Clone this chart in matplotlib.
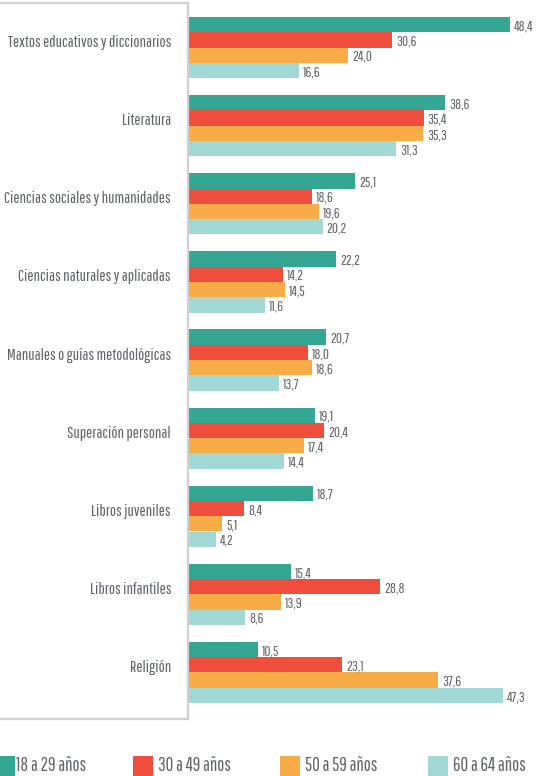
import matplotlib
matplotlib.use("Agg")
import matplotlib.pyplot as plt
from matplotlib.lines import Line2D
from matplotlib.patches import Rectangle

categories = ["Textos educativos y diccionarios", "Literatura", "Ciencias sociales y humanidades",
              "Ciencias naturales y aplicadas", "Manuales o guías metodológicas", "Superación personal",
              "Libros juveniles", "Libros infantiles", "Religión"]
series_names = ["18 a 29 años", "30 a 49 años", "50 a 59 años", "60 a 64 años"]
s18_29 = [48.4, 38.6, 25.1, 22.2, 20.7, 19.1, 18.7, 15.4, 10.5]
s30_49 = [30.6, 35.4, 18.6, 14.2, 18.0, 20.4, 8.4, 28.8, 23.1]
s50_59 = [24.0, 35.3, 19.6, 14.5, 18.6, 17.4, 5.1, 13.9, 37.6]
s60_64 = [16.6, 31.3, 20.2, 11.6, 13.7, 14.4, 4.2, 8.6, 47.3]
series = [s18_29, s30_49, s50_59, s60_64]
colors = ["#36A694", "#EF4E3C", "#F8AC48", "#A2D9D6"]

FONT = ["Pathway Gothic One", "Barlow Condensed", "DejaVu Sans"]
plt.rcParams['font.family'] = FONT
TXT = "#5f6368"

W, H = 550, 776
fig = plt.figure(figsize=(W/100, H/100), dpi=100)
ax_left, ax_top, ax_bot = 188, 3, 719
ax_right = 548
ax = fig.add_axes([ax_left/W, 1-ax_bot/H, (ax_right-ax_left)/W, (ax_bot-ax_top)/H])
ax.set_ylim(ax_bot, ax_top)
ax.set_xlim(0, (ax_right-ax_left)/6.66)

group_step = 78.1
bar_h = 15.3
first = 17
for j, vals in enumerate(series):
    ys = [first + i*group_step + (j+0.5)*bar_h for i in range(len(categories))]
    ax.barh(ys, vals, height=bar_h, color=colors[j], linewidth=0)
    for y, v in zip(ys, vals):
        ax.text(v + 0.6, y + 1.5, f"{v:.1f}".replace(".", ","), va="center", ha="left",
                fontsize=10.5, color=TXT)

for i, c in enumerate(categories):
    y = first + i*group_step + 25.5
    fig.text(171/W, 1-y/H, c, ha="right", va="center", fontsize=11.8, color=TXT)

ax.set_xticks([]); ax.set_yticks([])
for s in ["top", "right", "bottom"]:
    ax.spines[s].set_visible(False)
ax.spines["left"].set_color("#d0d0d0")
ax.spines["left"].set_linewidth(1.6)

fig.add_artist(Line2D([0, ax_left/W], [1-ax_top/H, 1-ax_top/H], color="#d0d0d0", lw=1.6,
                      transform=fig.transFigure))
fig.add_artist(Line2D([0, ax_left/W], [1-ax_bot/H, 1-ax_bot/H], color="#d0d0d0", lw=1.6,
                      transform=fig.transFigure))

leg_x = [0, 133, 280, 428]
for x, name, col in zip(leg_x, series_names, colors):
    w = 15 if x == 0 else 20
    fig.add_artist(Rectangle((x/W, 0), w/W, 20/H, transform=fig.transFigure,
                             facecolor=col, edgecolor="none"))
    fx = x + w + (1 if x == 0 else 5)
    fig.text(fx/W, 1-765.5/H, name, ha="left", va="center", fontsize=13.5, color=TXT)

fig.savefig("out.png", dpi=100)
